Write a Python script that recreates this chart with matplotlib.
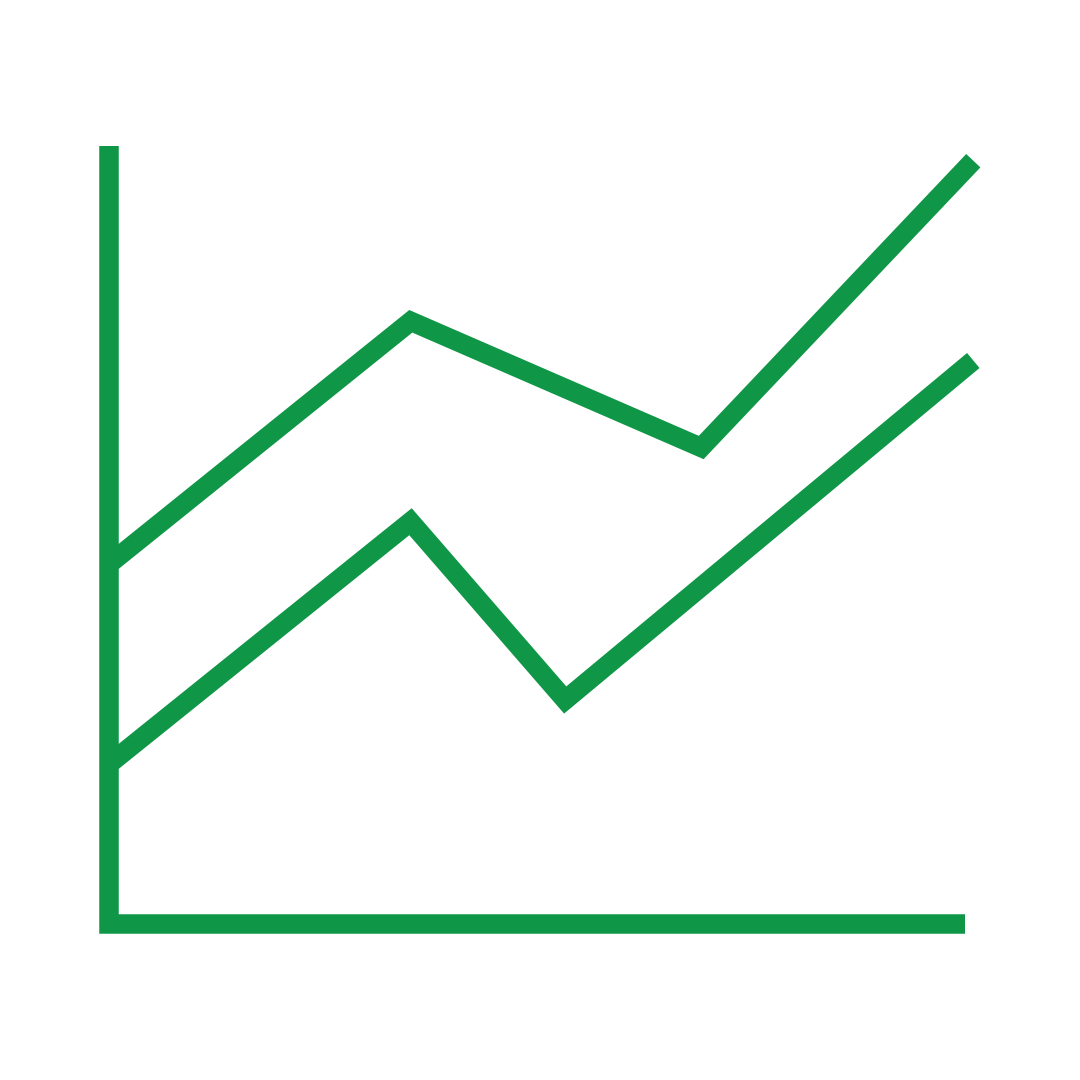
import matplotlib
matplotlib.use("Agg")
import matplotlib.pyplot as plt

GREEN = "#0F9647"

upper_x = [109.2, 410.8, 701.2, 973.3]
upper_y = [564, 321.3, 447.5, 160.7]
lower_x = [109.2, 410.5, 565.2, 973.3]
lower_y = [764, 521.7, 700, 360.5]
axis_x = [109.2, 109.2, 964.7]
axis_y = [146, 923.8, 923.8]

fig = plt.figure(figsize=(10.8, 10.8), dpi=100)
ax = fig.add_axes([0, 0, 1, 1])
ax.set_xlim(0, 1080)
ax.set_ylim(1080, 0)
ax.axis("off")

lw = 19.5 * 72 / 100
for xs, ys in ((upper_x, upper_y), (lower_x, lower_y), (axis_x, axis_y)):
    ax.plot(xs, ys, color=GREEN, lw=lw, solid_joinstyle="miter", solid_capstyle="butt")

fig.savefig("out.png", dpi=100, facecolor="white")
